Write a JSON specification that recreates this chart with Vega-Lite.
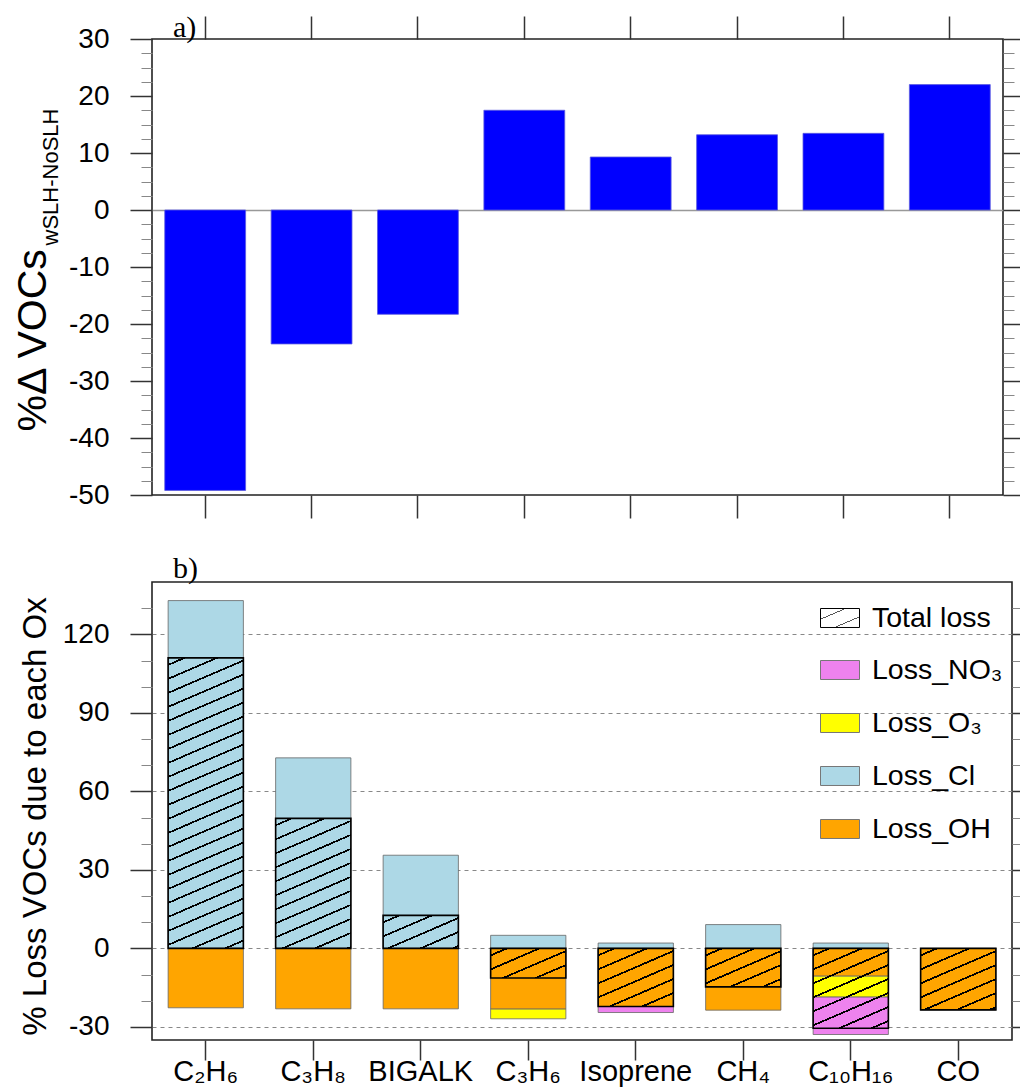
{
"$schema": "https://vega.github.io/schema/vega-lite/v6.json",
"background": "white",
"padding": {"left": 11, "top": 12, "right": 5, "bottom": 5},
"spacing": 33,
"config": {
  "font": "Liberation Sans",
  "view": {"stroke": "#222", "strokeWidth": 1.6},
  "axis": {"domain": false, "labelFont": "Liberation Sans", "labelColor": "#000", "titleFont": "Liberation Sans", "titleColor": "#000", "titleFontWeight": "normal"},
  "title": {"anchor": "start", "frame": "group", "font": "Liberation Serif", "fontSize": 30, "fontWeight": "normal", "color": "#000", "baseline": "alphabetic"},
  "legend": {"labelFont": "Liberation Sans", "labelColor": "#000"}
},
"datasets": {
  "a": [
    {"s": "C₂H₆", "v": -49.2}, {"s": "C₃H₈", "v": -23.5}, {"s": "BIGALK", "v": -18.3}, {"s": "C₃H₆", "v": 17.5},
    {"s": "Isoprene", "v": 9.3}, {"s": "CH₄", "v": 13.2}, {"s": "C₁₀H₁₆", "v": 13.45}, {"s": "CO", "v": 22.0}
  ],
  "comp": [
    {"s": "C₂H₆", "c": "Loss_Cl", "val": 132.9, "k": 1}, {"s": "C₂H₆", "c": "Loss_OH", "val": -22.7, "k": 1},
    {"s": "C₃H₈", "c": "Loss_Cl", "val": 72.8, "k": 1}, {"s": "C₃H₈", "c": "Loss_OH", "val": -23.1, "k": 1},
    {"s": "BIGALK", "c": "Loss_Cl", "val": 35.6, "k": 1}, {"s": "BIGALK", "c": "Loss_OH", "val": -23.1, "k": 1},
    {"s": "C₃H₆", "c": "Loss_Cl", "val": 5.0, "k": 1}, {"s": "C₃H₆", "c": "Loss_OH", "val": -23.2, "k": 1}, {"s": "C₃H₆", "c": "Loss_O₃", "val": -3.7, "k": 2},
    {"s": "Isoprene", "c": "Loss_Cl", "val": 2.05, "k": 1}, {"s": "Isoprene", "c": "Loss_OH", "val": -22.2, "k": 1}, {"s": "Isoprene", "c": "Loss_NO₃", "val": -2.3, "k": 3},
    {"s": "CH₄", "c": "Loss_Cl", "val": 9.1, "k": 1}, {"s": "CH₄", "c": "Loss_OH", "val": -23.6, "k": 1},
    {"s": "C₁₀H₁₆", "c": "Loss_Cl", "val": 2.05, "k": 1}, {"s": "C₁₀H₁₆", "c": "Loss_OH", "val": -10.6, "k": 1}, {"s": "C₁₀H₁₆", "c": "Loss_O₃", "val": -8.0, "k": 2}, {"s": "C₁₀H₁₆", "c": "Loss_NO₃", "val": -14.3, "k": 3},
    {"s": "CO", "c": "Loss_OH", "val": -23.5, "k": 1}
  ],
  "tot": [
    {"s": "C₂H₆", "t": 111.0}, {"s": "C₃H₈", "t": 49.7}, {"s": "BIGALK", "t": 12.6}, {"s": "C₃H₆", "t": -11.3},
    {"s": "Isoprene", "t": -22.2}, {"s": "CH₄", "t": -14.7}, {"s": "C₁₀H₁₆", "t": -30.5}, {"s": "CO", "t": -23.5}
  ]
},
"vconcat": [
{
  "title": {"text": "a)", "offset": -28, "dx": 21},
  "width": 851, "height": 456,
  "data": {"name": "a"},
  "layer": [
    {
      "mark": {"type": "bar", "fill": "#0000FF", "stroke": "#5a5ae0", "strokeWidth": 0.8},
      "encoding": {
        "x": {"field": "s", "type": "nominal", "sort": null, "scale": {"paddingInner": 0.24, "paddingOuter": 0.12},
              "axis": {"orient": "bottom", "title": null, "labels": false, "tickSize": 23, "tickWidth": 1.5, "tickColor": "#333"}},
        "y": {"field": "v", "type": "quantitative", "scale": {"domain": [-50, 30], "nice": false},
              "axis": {"orient": "left",
                "values": [-50,-47.5,-45,-42.5,-40,-37.5,-35,-32.5,-30,-27.5,-25,-22.5,-20,-17.5,-15,-12.5,-10,-7.5,-5,-2.5,0,2.5,5,7.5,10,12.5,15,17.5,20,22.5,25,27.5,30],
                "labelExpr": "datum.value % 10 === 0 ? '' + datum.value : ''",
                "labelFontSize": 28, "labelPadding": 21, "labelOverlap": false, "labelFlush": false,
                "tickSize": {"condition": {"test": "datum.value % 10 === 0", "value": 22}, "value": 11},
                "tickWidth": {"condition": {"test": "datum.value % 10 === 0", "value": 1.5}, "value": 1},
                "tickColor": {"condition": {"test": "datum.value % 10 === 0", "value": "#333"}, "value": "#888"},
                "grid": true, "gridColor": "#999", "gridWidth": 1.5,
                "gridOpacity": {"condition": {"test": "datum.value === 0", "value": 1}, "value": 0},
                "title": "%Δ VOCs", "titleFontSize": 41, "titleAngle": 270, "titleAlign": "left", "titleBaseline": "alphabetic", "titleX": -107, "titleY": 392}}
      }
    },
    {
      "mark": {"type": "bar", "opacity": 0},
      "encoding": {
        "x": {"field": "s", "type": "nominal", "sort": null, "scale": {"paddingInner": 0.24, "paddingOuter": 0.12},
              "axis": {"orient": "top", "title": null, "labels": false, "tickSize": 23, "tickWidth": 1.5, "tickColor": "#333"}},
        "y": {"field": "v", "type": "quantitative", "scale": {"domain": [-50, 30], "nice": false},
              "axis": {"orient": "right", "labels": false, "grid": false,
                "values": [-50,-47.5,-45,-42.5,-40,-37.5,-35,-32.5,-30,-27.5,-25,-22.5,-20,-17.5,-15,-12.5,-10,-7.5,-5,-2.5,0,2.5,5,7.5,10,12.5,15,17.5,20,22.5,25,27.5,30],
                "tickSize": {"condition": {"test": "datum.value % 10 === 0", "value": 22}, "value": 11},
                "tickWidth": {"condition": {"test": "datum.value % 10 === 0", "value": 1.5}, "value": 1},
                "tickColor": {"condition": {"test": "datum.value % 10 === 0", "value": "#333"}, "value": "#888"},
                "title": "wSLH-NoSLH", "titleFontSize": 22, "titleAngle": 270, "titleAlign": "left", "titleBaseline": "alphabetic", "titleX": -946, "titleY": 206}}
      }
    }
  ],
  "resolve": {"scale": {"x": "independent", "y": "independent"}}
},
{
  "title": {"text": "b)", "offset": -2, "dx": 21},
  "width": 860, "height": 458,
  "layer": [
    {
      "data": {"name": "comp"},
      "mark": {"type": "bar", "stroke": "#666", "strokeWidth": 0.8},
      "encoding": {
        "x": {"field": "s", "type": "nominal", "sort": null,
              "scale": {"domain": ["C₂H₆","C₃H₈","BIGALK","C₃H₆","Isoprene","CH₄","C₁₀H₁₆","CO"], "paddingInner": 0.3, "paddingOuter": 0.15},
              "axis": {"orient": "bottom", "title": null, "labelFontSize": 29, "labelAngle": 0, "labelPadding": -3, "tickSize": 20, "tickWidth": 1.5, "tickColor": "#333", "labelOverlap": false, "labelLimit": 300}},
        "y": {"field": "val", "type": "quantitative", "stack": "zero", "scale": {"domain": [-35, 140], "nice": false},
              "axis": {"orient": "left",
                "values": [-30,-20,-10,0,10,20,30,40,50,60,70,80,90,100,110,120,130],
                "labelExpr": "datum.value % 30 === 0 ? '' + datum.value : ''",
                "labelFontSize": 28, "labelPadding": 21, "labelOverlap": false, "labelFlush": false,
                "tickSize": {"condition": {"test": "datum.value % 30 === 0", "value": 22}, "value": 11},
                "tickWidth": {"condition": {"test": "datum.value % 30 === 0", "value": 1.5}, "value": 1},
                "tickColor": {"condition": {"test": "datum.value % 30 === 0", "value": "#333"}, "value": "#888"},
                "grid": true, "gridColor": "#888", "gridWidth": 1, "gridDash": [4, 4],
                "gridOpacity": {"condition": {"test": "datum.value % 30 === 0", "value": 1}, "value": 0},
                "title": "% Loss VOCs due to each Ox", "titleFontSize": 33, "titleAngle": 270, "titleAlign": "center", "titleBaseline": "alphabetic", "titleX": -107, "titleY": 234}},
        "fill": {"field": "c", "type": "nominal",
                 "scale": {"domain": ["Loss_NO₃", "Loss_O₃", "Loss_Cl", "Loss_OH"], "range": ["#EE82EE", "#FFFF00", "#ADD8E6", "#FFA500"]},
                 "legend": {"orient": "none", "legendX": 668, "legendY": 611, "title": null, "padding": 0,
                   "symbolType": "M-1,-0.487H1V0.487H-1Z", "symbolSize": 1521, "symbolStrokeColor": "#777", "symbolStrokeWidth": 1,
                   "labelFontSize": 28.5, "labelOffset": 12, "rowPadding": 18, "labelLimit": 400}},
        "order": {"field": "k", "type": "quantitative"}
      }
    },
    {
      "data": {"name": "tot"},
      "mark": {"type": "bar", "strokeWidth": 1.6},
      "encoding": {
        "x": {"field": "s", "type": "nominal", "sort": null,
              "scale": {"domain": ["C₂H₆","C₃H₈","BIGALK","C₃H₆","Isoprene","CH₄","C₁₀H₁₆","CO"], "paddingInner": 0.3, "paddingOuter": 0.15}},
        "y": {"field": "t", "type": "quantitative", "stack": null, "scale": {"domain": [-35, 140], "nice": false},
              "axis": {"orient": "right", "labels": false, "grid": false, "title": null,
                "values": [-30,-20,-10,0,10,20,30,40,50,60,70,80,90,100,110,120,130],
                "tickSize": {"condition": {"test": "datum.value % 30 === 0", "value": 22}, "value": 11},
                "tickWidth": {"condition": {"test": "datum.value % 30 === 0", "value": 1.5}, "value": 1},
                "tickColor": {"condition": {"test": "datum.value % 30 === 0", "value": "#333"}, "value": "#888"}}},
        "fill": {"condition": [
          {"test": "datum.s === 'C₂H₆'", "value": {"gradient": "linear", "x1": 0, "y1": 0, "x2": 0.1225, "y2": 1.0979, "stops": [
            {"offset":0.0188,"color":"rgba(0,0,0,0)"},{"offset":0.0188,"color":"#000"},{"offset":0.0246,"color":"#000"},{"offset":0.0246,"color":"rgba(0,0,0,0)"},
            {"offset":0.0621,"color":"rgba(0,0,0,0)"},{"offset":0.0621,"color":"#000"},{"offset":0.0679,"color":"#000"},{"offset":0.0679,"color":"rgba(0,0,0,0)"},
            {"offset":0.1055,"color":"rgba(0,0,0,0)"},{"offset":0.1055,"color":"#000"},{"offset":0.1113,"color":"#000"},{"offset":0.1113,"color":"rgba(0,0,0,0)"},
            {"offset":0.1488,"color":"rgba(0,0,0,0)"},{"offset":0.1488,"color":"#000"},{"offset":0.1546,"color":"#000"},{"offset":0.1546,"color":"rgba(0,0,0,0)"},
            {"offset":0.1922,"color":"rgba(0,0,0,0)"},{"offset":0.1922,"color":"#000"},{"offset":0.1980,"color":"#000"},{"offset":0.1980,"color":"rgba(0,0,0,0)"},
            {"offset":0.2356,"color":"rgba(0,0,0,0)"},{"offset":0.2356,"color":"#000"},{"offset":0.2414,"color":"#000"},{"offset":0.2414,"color":"rgba(0,0,0,0)"},
            {"offset":0.2789,"color":"rgba(0,0,0,0)"},{"offset":0.2789,"color":"#000"},{"offset":0.2847,"color":"#000"},{"offset":0.2847,"color":"rgba(0,0,0,0)"},
            {"offset":0.3223,"color":"rgba(0,0,0,0)"},{"offset":0.3223,"color":"#000"},{"offset":0.3281,"color":"#000"},{"offset":0.3281,"color":"rgba(0,0,0,0)"},
            {"offset":0.3656,"color":"rgba(0,0,0,0)"},{"offset":0.3656,"color":"#000"},{"offset":0.3714,"color":"#000"},{"offset":0.3714,"color":"rgba(0,0,0,0)"},
            {"offset":0.4090,"color":"rgba(0,0,0,0)"},{"offset":0.4090,"color":"#000"},{"offset":0.4148,"color":"#000"},{"offset":0.4148,"color":"rgba(0,0,0,0)"},
            {"offset":0.4523,"color":"rgba(0,0,0,0)"},{"offset":0.4523,"color":"#000"},{"offset":0.4581,"color":"#000"},{"offset":0.4581,"color":"rgba(0,0,0,0)"},
            {"offset":0.4957,"color":"rgba(0,0,0,0)"},{"offset":0.4957,"color":"#000"},{"offset":0.5015,"color":"#000"},{"offset":0.5015,"color":"rgba(0,0,0,0)"},
            {"offset":0.5391,"color":"rgba(0,0,0,0)"},{"offset":0.5391,"color":"#000"},{"offset":0.5449,"color":"#000"},{"offset":0.5449,"color":"rgba(0,0,0,0)"},
            {"offset":0.5824,"color":"rgba(0,0,0,0)"},{"offset":0.5824,"color":"#000"},{"offset":0.5882,"color":"#000"},{"offset":0.5882,"color":"rgba(0,0,0,0)"},
            {"offset":0.6258,"color":"rgba(0,0,0,0)"},{"offset":0.6258,"color":"#000"},{"offset":0.6316,"color":"#000"},{"offset":0.6316,"color":"rgba(0,0,0,0)"},
            {"offset":0.6691,"color":"rgba(0,0,0,0)"},{"offset":0.6691,"color":"#000"},{"offset":0.6749,"color":"#000"},{"offset":0.6749,"color":"rgba(0,0,0,0)"},
            {"offset":0.7125,"color":"rgba(0,0,0,0)"},{"offset":0.7125,"color":"#000"},{"offset":0.7183,"color":"#000"},{"offset":0.7183,"color":"rgba(0,0,0,0)"},
            {"offset":0.7558,"color":"rgba(0,0,0,0)"},{"offset":0.7558,"color":"#000"},{"offset":0.7616,"color":"#000"},{"offset":0.7616,"color":"rgba(0,0,0,0)"},
            {"offset":0.7992,"color":"rgba(0,0,0,0)"},{"offset":0.7992,"color":"#000"},{"offset":0.8050,"color":"#000"},{"offset":0.8050,"color":"rgba(0,0,0,0)"},
            {"offset":0.8426,"color":"rgba(0,0,0,0)"},{"offset":0.8426,"color":"#000"},{"offset":0.8484,"color":"#000"},{"offset":0.8484,"color":"rgba(0,0,0,0)"},
            {"offset":0.8859,"color":"rgba(0,0,0,0)"},{"offset":0.8859,"color":"#000"},{"offset":0.8917,"color":"#000"},{"offset":0.8917,"color":"rgba(0,0,0,0)"},
            {"offset":0.9293,"color":"rgba(0,0,0,0)"},{"offset":0.9293,"color":"#000"},{"offset":0.9351,"color":"#000"},{"offset":0.9351,"color":"rgba(0,0,0,0)"},
            {"offset":0.9726,"color":"rgba(0,0,0,0)"},{"offset":0.9726,"color":"#000"},{"offset":0.9784,"color":"#000"},{"offset":0.9784,"color":"rgba(0,0,0,0)"}]}},
          {"test": "datum.s === 'C₃H₈'", "value": {"gradient": "linear", "x1": 0, "y1": 0, "x2": 0.2930, "y2": 1.1761, "stops": [
            {"offset":0.0373,"color":"rgba(0,0,0,0)"},{"offset":0.0373,"color":"#000"},{"offset":0.0489,"color":"#000"},{"offset":0.0489,"color":"rgba(0,0,0,0)"},
            {"offset":0.1235,"color":"rgba(0,0,0,0)"},{"offset":0.1235,"color":"#000"},{"offset":0.1351,"color":"#000"},{"offset":0.1351,"color":"rgba(0,0,0,0)"},
            {"offset":0.2096,"color":"rgba(0,0,0,0)"},{"offset":0.2096,"color":"#000"},{"offset":0.2212,"color":"#000"},{"offset":0.2212,"color":"rgba(0,0,0,0)"},
            {"offset":0.2958,"color":"rgba(0,0,0,0)"},{"offset":0.2958,"color":"#000"},{"offset":0.3074,"color":"#000"},{"offset":0.3074,"color":"rgba(0,0,0,0)"},
            {"offset":0.3820,"color":"rgba(0,0,0,0)"},{"offset":0.3820,"color":"#000"},{"offset":0.3936,"color":"#000"},{"offset":0.3936,"color":"rgba(0,0,0,0)"},
            {"offset":0.4681,"color":"rgba(0,0,0,0)"},{"offset":0.4681,"color":"#000"},{"offset":0.4797,"color":"#000"},{"offset":0.4797,"color":"rgba(0,0,0,0)"},
            {"offset":0.5543,"color":"rgba(0,0,0,0)"},{"offset":0.5543,"color":"#000"},{"offset":0.5659,"color":"#000"},{"offset":0.5659,"color":"rgba(0,0,0,0)"},
            {"offset":0.6405,"color":"rgba(0,0,0,0)"},{"offset":0.6405,"color":"#000"},{"offset":0.6521,"color":"#000"},{"offset":0.6521,"color":"rgba(0,0,0,0)"},
            {"offset":0.7266,"color":"rgba(0,0,0,0)"},{"offset":0.7266,"color":"#000"},{"offset":0.7382,"color":"#000"},{"offset":0.7382,"color":"rgba(0,0,0,0)"},
            {"offset":0.8128,"color":"rgba(0,0,0,0)"},{"offset":0.8128,"color":"#000"},{"offset":0.8244,"color":"#000"},{"offset":0.8244,"color":"rgba(0,0,0,0)"},
            {"offset":0.8990,"color":"rgba(0,0,0,0)"},{"offset":0.8990,"color":"#000"},{"offset":0.9106,"color":"#000"},{"offset":0.9106,"color":"rgba(0,0,0,0)"},
            {"offset":0.9852,"color":"rgba(0,0,0,0)"},{"offset":0.9852,"color":"#000"},{"offset":0.9968,"color":"#000"},{"offset":0.9968,"color":"rgba(0,0,0,0)"}]}},
          {"test": "datum.s === 'BIGALK'", "value": {"gradient": "linear", "x1": 0, "y1": 0, "x2": 0.9911, "y2": 1.0086, "stops": [
            {"offset":0.0926,"color":"rgba(0,0,0,0)"},{"offset":0.0926,"color":"#000"},{"offset":0.1216,"color":"#000"},{"offset":0.1216,"color":"rgba(0,0,0,0)"},
            {"offset":0.3068,"color":"rgba(0,0,0,0)"},{"offset":0.3068,"color":"#000"},{"offset":0.3358,"color":"#000"},{"offset":0.3358,"color":"rgba(0,0,0,0)"},
            {"offset":0.5209,"color":"rgba(0,0,0,0)"},{"offset":0.5209,"color":"#000"},{"offset":0.5499,"color":"#000"},{"offset":0.5499,"color":"rgba(0,0,0,0)"},
            {"offset":0.7351,"color":"rgba(0,0,0,0)"},{"offset":0.7351,"color":"#000"},{"offset":0.7641,"color":"#000"},{"offset":0.7641,"color":"rgba(0,0,0,0)"},
            {"offset":0.9493,"color":"rgba(0,0,0,0)"},{"offset":0.9493,"color":"#000"},{"offset":0.9783,"color":"#000"},{"offset":0.9783,"color":"rgba(0,0,0,0)"}]}},
          {"test": "datum.s === 'C₃H₆'", "value": {"gradient": "linear", "x1": 0, "y1": 0, "x2": 1.0434, "y2": 0.9523, "stops": [
            {"offset":0.0977,"color":"rgba(0,0,0,0)"},{"offset":0.0977,"color":"#000"},{"offset":0.1283,"color":"#000"},{"offset":0.1283,"color":"rgba(0,0,0,0)"},
            {"offset":0.3236,"color":"rgba(0,0,0,0)"},{"offset":0.3236,"color":"#000"},{"offset":0.3542,"color":"#000"},{"offset":0.3542,"color":"rgba(0,0,0,0)"},
            {"offset":0.5495,"color":"rgba(0,0,0,0)"},{"offset":0.5495,"color":"#000"},{"offset":0.5801,"color":"#000"},{"offset":0.5801,"color":"rgba(0,0,0,0)"},
            {"offset":0.7754,"color":"rgba(0,0,0,0)"},{"offset":0.7754,"color":"#000"},{"offset":0.8060,"color":"#000"},{"offset":0.8060,"color":"rgba(0,0,0,0)"}]}},
          {"test": "datum.s === 'Isoprene'", "value": {"gradient": "linear", "x1": 0, "y1": 0, "x2": 0.6626, "y2": 1.1881, "stops": [
            {"offset":0.0669,"color":"rgba(0,0,0,0)"},{"offset":0.0669,"color":"#000"},{"offset":0.0879,"color":"#000"},{"offset":0.0879,"color":"rgba(0,0,0,0)"},
            {"offset":0.2216,"color":"rgba(0,0,0,0)"},{"offset":0.2216,"color":"#000"},{"offset":0.2426,"color":"#000"},{"offset":0.2426,"color":"rgba(0,0,0,0)"},
            {"offset":0.3763,"color":"rgba(0,0,0,0)"},{"offset":0.3763,"color":"#000"},{"offset":0.3973,"color":"#000"},{"offset":0.3973,"color":"rgba(0,0,0,0)"},
            {"offset":0.5310,"color":"rgba(0,0,0,0)"},{"offset":0.5310,"color":"#000"},{"offset":0.5520,"color":"#000"},{"offset":0.5520,"color":"rgba(0,0,0,0)"},
            {"offset":0.6857,"color":"rgba(0,0,0,0)"},{"offset":0.6857,"color":"#000"},{"offset":0.7067,"color":"#000"},{"offset":0.7067,"color":"rgba(0,0,0,0)"},
            {"offset":0.8404,"color":"rgba(0,0,0,0)"},{"offset":0.8404,"color":"#000"},{"offset":0.8614,"color":"#000"},{"offset":0.8614,"color":"rgba(0,0,0,0)"}]}},
          {"test": "datum.s === 'CH₄'", "value": {"gradient": "linear", "x1": 0, "y1": 0, "x2": 0.9077, "y2": 1.0777, "stops": [
            {"offset":0.0854,"color":"rgba(0,0,0,0)"},{"offset":0.0854,"color":"#000"},{"offset":0.1122,"color":"#000"},{"offset":0.1122,"color":"rgba(0,0,0,0)"},
            {"offset":0.2829,"color":"rgba(0,0,0,0)"},{"offset":0.2829,"color":"#000"},{"offset":0.3097,"color":"#000"},{"offset":0.3097,"color":"rgba(0,0,0,0)"},
            {"offset":0.4805,"color":"rgba(0,0,0,0)"},{"offset":0.4805,"color":"#000"},{"offset":0.5073,"color":"#000"},{"offset":0.5073,"color":"rgba(0,0,0,0)"},
            {"offset":0.6780,"color":"rgba(0,0,0,0)"},{"offset":0.6780,"color":"#000"},{"offset":0.7048,"color":"#000"},{"offset":0.7048,"color":"rgba(0,0,0,0)"},
            {"offset":0.8756,"color":"rgba(0,0,0,0)"},{"offset":0.8756,"color":"#000"},{"offset":0.9024,"color":"#000"},{"offset":0.9024,"color":"rgba(0,0,0,0)"}]}},
          {"test": "datum.s === 'C₁₀H₁₆'", "value": {"gradient": "linear", "x1": 0, "y1": 0, "x2": 0.4900, "y2": 1.2070, "stops": [
            {"offset":0.0539,"color":"rgba(0,0,0,0)"},{"offset":0.0539,"color":"#000"},{"offset":0.0709,"color":"#000"},{"offset":0.0709,"color":"rgba(0,0,0,0)"},
            {"offset":0.1786,"color":"rgba(0,0,0,0)"},{"offset":0.1786,"color":"#000"},{"offset":0.1956,"color":"#000"},{"offset":0.1956,"color":"rgba(0,0,0,0)"},
            {"offset":0.3034,"color":"rgba(0,0,0,0)"},{"offset":0.3034,"color":"#000"},{"offset":0.3204,"color":"#000"},{"offset":0.3204,"color":"rgba(0,0,0,0)"},
            {"offset":0.4281,"color":"rgba(0,0,0,0)"},{"offset":0.4281,"color":"#000"},{"offset":0.4451,"color":"#000"},{"offset":0.4451,"color":"rgba(0,0,0,0)"},
            {"offset":0.5529,"color":"rgba(0,0,0,0)"},{"offset":0.5529,"color":"#000"},{"offset":0.5699,"color":"#000"},{"offset":0.5699,"color":"rgba(0,0,0,0)"},
            {"offset":0.6776,"color":"rgba(0,0,0,0)"},{"offset":0.6776,"color":"#000"},{"offset":0.6946,"color":"#000"},{"offset":0.6946,"color":"rgba(0,0,0,0)"},
            {"offset":0.8024,"color":"rgba(0,0,0,0)"},{"offset":0.8024,"color":"#000"},{"offset":0.8194,"color":"#000"},{"offset":0.8194,"color":"rgba(0,0,0,0)"},
            {"offset":0.9271,"color":"rgba(0,0,0,0)"},{"offset":0.9271,"color":"#000"},{"offset":0.9441,"color":"#000"},{"offset":0.9441,"color":"rgba(0,0,0,0)"}]}},
          {"test": "datum.s === 'CO'", "value": {"gradient": "linear", "x1": 0, "y1": 0, "x2": 0.6296, "y2": 1.1951, "stops": [
            {"offset":0.0644,"color":"rgba(0,0,0,0)"},{"offset":0.0644,"color":"#000"},{"offset":0.0846,"color":"#000"},{"offset":0.0846,"color":"rgba(0,0,0,0)"},
            {"offset":0.2135,"color":"rgba(0,0,0,0)"},{"offset":0.2135,"color":"#000"},{"offset":0.2337,"color":"#000"},{"offset":0.2337,"color":"rgba(0,0,0,0)"},
            {"offset":0.3626,"color":"rgba(0,0,0,0)"},{"offset":0.3626,"color":"#000"},{"offset":0.3828,"color":"#000"},{"offset":0.3828,"color":"rgba(0,0,0,0)"},
            {"offset":0.5117,"color":"rgba(0,0,0,0)"},{"offset":0.5117,"color":"#000"},{"offset":0.5319,"color":"#000"},{"offset":0.5319,"color":"rgba(0,0,0,0)"},
            {"offset":0.6608,"color":"rgba(0,0,0,0)"},{"offset":0.6608,"color":"#000"},{"offset":0.6810,"color":"#000"},{"offset":0.6810,"color":"rgba(0,0,0,0)"},
            {"offset":0.8099,"color":"rgba(0,0,0,0)"},{"offset":0.8099,"color":"#000"},{"offset":0.8301,"color":"#000"},{"offset":0.8301,"color":"rgba(0,0,0,0)"},
            {"offset":0.9590,"color":"rgba(0,0,0,0)"},{"offset":0.9590,"color":"#000"},{"offset":0.9792,"color":"#000"},{"offset":0.9792,"color":"rgba(0,0,0,0)"}]}}
        ], "value": {"gradient": "linear", "x1": 0, "y1": 0, "x2": 0.9351, "y2": 1.0575, "stops": [
            {"offset":0.285,"color":"rgba(0,0,0,0)"},{"offset":0.285,"color":"#555"},{"offset":0.315,"color":"#555"},{"offset":0.315,"color":"rgba(0,0,0,0)"},
            {"offset":0.685,"color":"rgba(0,0,0,0)"},{"offset":0.685,"color":"#555"},{"offset":0.715,"color":"#555"},{"offset":0.715,"color":"rgba(0,0,0,0)"}]}},
        "stroke": {"datum": "Total loss", "type": "nominal", "scale": {"domain": ["Total loss"], "range": ["#000"]},
                   "legend": {"orient": "none", "legendX": 668, "legendY": 559, "title": null, "padding": 0,
                     "symbolType": "M-1,-0.487H1V0.487H-1Z", "symbolSize": 1521, "symbolStrokeWidth": 1,
                     "symbolFillColor": {"gradient": "linear", "x1": 0, "y1": 0, "x2": 0.9351, "y2": 1.0575, "stops": [
                       {"offset":0.285,"color":"rgba(0,0,0,0)"},{"offset":0.285,"color":"#555"},{"offset":0.315,"color":"#555"},{"offset":0.315,"color":"rgba(0,0,0,0)"},
                       {"offset":0.685,"color":"rgba(0,0,0,0)"},{"offset":0.685,"color":"#555"},{"offset":0.715,"color":"#555"},{"offset":0.715,"color":"rgba(0,0,0,0)"}]},
                     "labelFontSize": 28.5, "labelOffset": 12, "labelLimit": 400}}
      }
    }
  ],
  "resolve": {"scale": {"y": "independent"}}
}
]
}
